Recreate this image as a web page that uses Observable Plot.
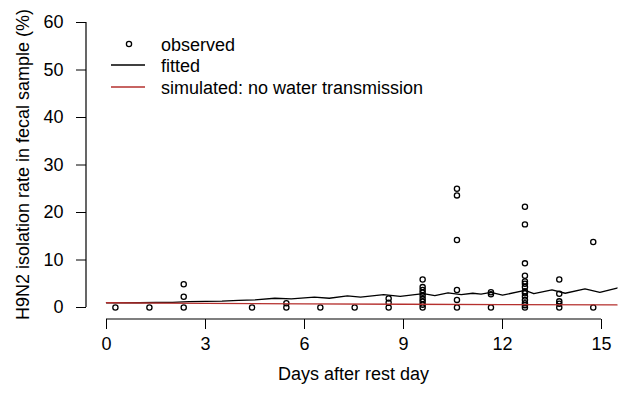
<!DOCTYPE html>
<html><head><meta charset="utf-8">
<script src="https://cdn.jsdelivr.net/npm/d3@7"></script>
<script src="https://cdn.jsdelivr.net/npm/@observablehq/plot@0.6"></script>
<style>
body{margin:0;background:#fff}
svg{font-family:"Liberation Sans",Arial,Helvetica,sans-serif}
</style>
</head><body><div id="chart"></div>
<script>
// Observed isolation rates, grouped by sampling day
const obsDays = [0.27, 1.3, 2.34, 4.41, 5.45, 6.48, 7.52, 8.55, 9.58, 10.62, 11.65, 12.68, 13.72, 14.75];
const obsValues = [
  [0],
  [0],
  [0, 2.25, 4.9],
  [0],
  [0, 0.9],
  [0],
  [0],
  [0, 1.0, 1.9],
  [0, 0.6, 1.2, 1.8, 2.5, 3.1, 3.7, 4.3, 5.9],
  [0, 1.6, 3.7, 14.2, 23.6, 25.0],
  [0, 2.8, 3.2],
  [0, 0.5, 0.9, 1.6, 2.3, 3.0, 3.4, 4.3, 5.0, 5.5, 6.7, 9.3, 17.5, 21.2],
  [0, 0.8, 1.3, 2.9, 5.9],
  [0, 13.8]
];
// Fitted curve
const fitDays   = [0, 0.5, 1, 1.5, 2, 2.5, 3, 3.5, 4, 4.5, 5.1, 5.6, 6.3, 6.75, 7.3, 7.7, 8.4, 8.9, 9.6, 9.95, 10.35, 10.75, 11.1, 11.35, 11.65, 12.0, 12.68, 12.95, 13.5, 13.9, 14.5, 14.95, 15.47];
const fitValues = [1.0, 1.0, 1.0, 1.05, 1.1, 1.25, 1.3, 1.35, 1.5, 1.6, 1.95, 1.8, 2.2, 1.95, 2.45, 2.2, 2.7, 2.35, 2.9, 2.5, 3.1, 2.7, 3.0, 2.8, 3.2, 2.6, 3.6, 2.9, 3.7, 3.0, 3.9, 3.2, 4.1];
// Simulated: no water transmission
const simDays   = [0, 3, 6, 9, 12, 15.47];
const simValues = [1.0, 0.85, 0.75, 0.68, 0.62, 0.55];

const xTicks = [0, 3, 6, 9, 12, 15];
const yTicks = [0, 10, 20, 30, 40, 50, 60];
const legendLabels = ["observed", "fitted", "simulated: no water transmission"];
const xTitle = "Days after rest day";
const yTitle = "H9N2 isolation rate in fecal sample (%)";
const simColor = "#b5302e";

const observed = obsDays.flatMap((d, i) => obsValues[i].map(v => ({day: d, value: v})));
const fitted = fitDays.map((d, i) => ({day: d, value: fitValues[i]}));
const simulated = simDays.map((d, i) => ({day: d, value: simValues[i]}));

const W = 629, H = 397, mL = 86, mB = 78;
const FS = 18;
const R = 2.6;

const plot = Plot.plot({
  width: W, height: H,
  marginLeft: mL, marginBottom: mB, marginTop: 22, marginRight: 10,
  x: {domain: [0, 15], range: [106, 601]},
  y: {domain: [0, 60], range: [307, 22]},
  style: {fontFamily: '"Liberation Sans",Arial,sans-serif', fontSize: FS + "px", color: "#000", background: "#fff"},
  marks: [
    Plot.axisX({ticks: xTicks, tickSize: 10, tickPadding: 8, label: null, fontSize: FS, stroke: "#000"}),
    Plot.axisY({ticks: yTicks, tickSize: 10, tickPadding: 13, label: null, fontSize: FS, stroke: "#000"}),
    Plot.dot(observed, {x: "day", y: "value", r: R, stroke: "#000", strokeWidth: 1.3, fill: "none"}),
    Plot.line(fitted, {x: "day", y: "value", stroke: "#000", strokeWidth: 1.3}),
    Plot.line(simulated, {x: "day", y: "value", stroke: simColor, strokeWidth: 1.3})
  ]
});

const svg = d3.select(plot);
const xs = plot.scale("x"), ys = plot.scale("y");
const axisY0 = H - mB;
// axis lines spanning the tick range (R style)
svg.append("line")
  .attr("x1", xs.apply(xTicks[0])).attr("x2", xs.apply(xTicks[xTicks.length - 1]))
  .attr("y1", axisY0).attr("y2", axisY0)
  .attr("stroke", "#000").attr("stroke-width", 1.2);
svg.append("line")
  .attr("x1", mL).attr("x2", mL)
  .attr("y1", ys.apply(yTicks[0])).attr("y2", ys.apply(yTicks[yTicks.length - 1]))
  .attr("stroke", "#000").attr("stroke-width", 1.2);

function txt(sel) {
  return sel.style("font-size", FS + "px").style("fill", "#000");
}
// axis titles
txt(svg.append("text"))
  .attr("x", (xs.apply(0) + xs.apply(15)) / 2).attr("y", 380)
  .style("text-anchor", "middle")
  .text(xTitle);
txt(svg.append("text"))
  .attr("transform", `translate(29,${(ys.apply(0) + ys.apply(60)) / 2}) rotate(-90)`)
  .style("text-anchor", "middle")
  .text(yTitle);

// legend
const lg = svg.append("g");
const rowY = [44, 65, 87];
lg.append("circle").attr("cx", 129).attr("cy", rowY[0]).attr("r", R)
  .attr("fill", "none").attr("stroke", "#000").attr("stroke-width", 1.3);
lg.append("line").attr("x1", 111).attr("x2", 145).attr("y1", rowY[1]).attr("y2", rowY[1])
  .attr("stroke", "#000").attr("stroke-width", 1.3);
lg.append("line").attr("x1", 111).attr("x2", 145).attr("y1", rowY[2]).attr("y2", rowY[2])
  .attr("stroke", simColor).attr("stroke-width", 1.3);
legendLabels.forEach((t, i) => {
  txt(lg.append("text")).attr("x", 161).attr("y", rowY[i] + 6.5)
    .style("text-anchor", "start").text(t);
});

document.getElementById("chart").appendChild(plot);
</script>
</body></html>
